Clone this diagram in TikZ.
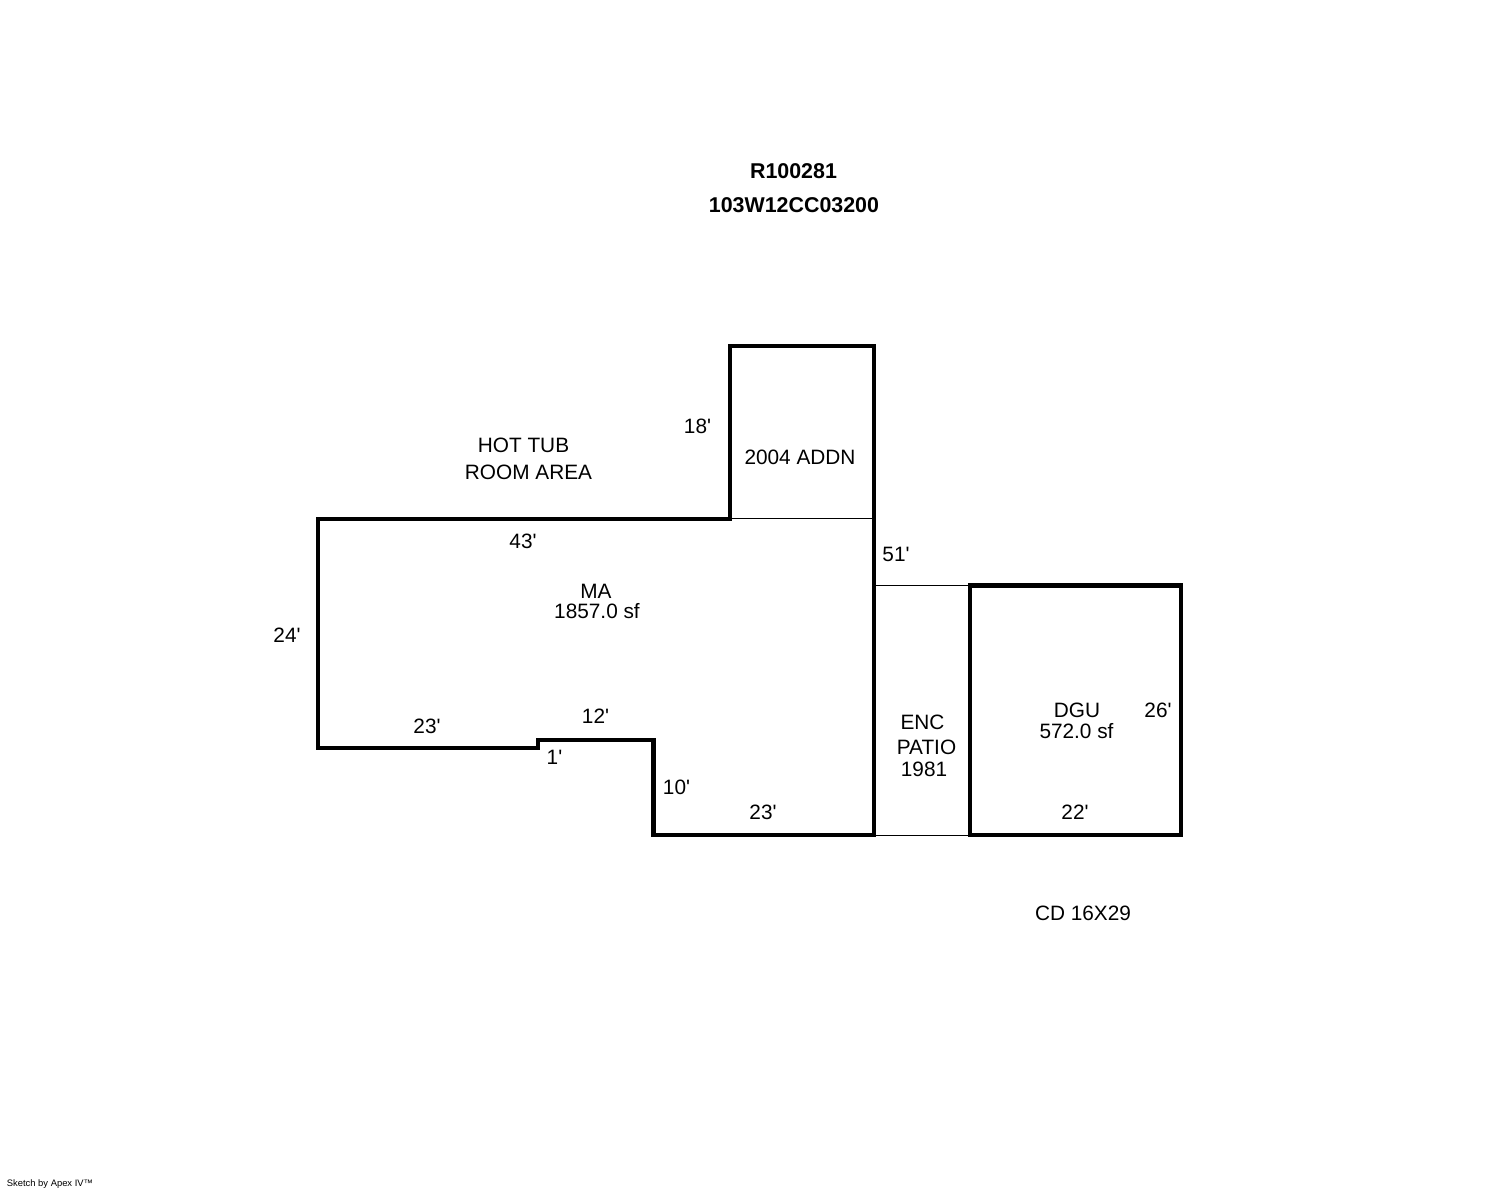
\documentclass[tikz,border=0pt]{standalone}
\usepackage{fontspec}
\setmainfont{Liberation Sans}
\usetikzlibrary{positioning}
\newcommand{\ft}{\textquotesingle}
\tikzset{
  wall/.style={line width=2.1pt, line join=miter},
  thin wall/.style={line width=0.5pt},
  lbl/.style={inner sep=0pt, font=\fontsize{10.4}{12}\selectfont, align=center},
  head/.style={inner sep=0pt, font=\fontsize{10.7}{12}\selectfont\bfseries}
}
\begin{document}
% 1 px = 0.5 pt, y measured downwards from the top
\begin{tikzpicture}[x=0.5pt,y=-0.5pt]
\useasboundingbox (0,0) rectangle (1488,1190);
% Outline corners
\coordinate (ma1) at (318,519);
\coordinate (ma2) at (730,519);
\coordinate (ad1) at (730,346);
\coordinate (ad2) at (874,346);
\coordinate (ma3) at (874,835);
\coordinate (ma4) at (653.5,835);
\coordinate (ma5) at (653.5,740);
\coordinate (ma6) at (538,740);
\coordinate (ma7) at (538,748);
\coordinate (ma8) at (318,748);
\coordinate (pa1) at (874,585.5);
\coordinate (dg1) at (970,585.5);
\coordinate (dg2) at (1181,585.5);
\coordinate (dg3) at (1181,835);
\coordinate (dg4) at (970,835);
% Thin lines
\draw[thin wall] (ma2) ++(0,-0.5) -- (874,518.5);
\draw[thin wall] (pa1) -- (dg1);
\draw[thin wall] (ma3) -- (dg4);
% Main area
\draw[wall] (ma1) -- (ma2) -- (ad1) -- (ad2) -- (ma3) -- (ma4) -- (ma5) -- (ma6) -- (ma7) -- (ma8) -- cycle;
% Garage
\draw[wall] (dg1) -- (dg2) -- (dg3) -- (dg4) -- cycle;
% Titles
\node[head] (title) at (793.5,171) {R100281};
\node[head] (parcel) at (794,205) {103W12CC03200};
% Areas
\node[lbl] (tub1) at (523.5,445) {HOT TUB};
\node[lbl] (tub2) at (528.5,472) {ROOM AREA};
\node[lbl] (addn) at (800,457) {2004 ADDN};
\node[lbl] (ma) at (596,591) {MA};
\node[lbl] (masf) at (597,611) {1857.0 sf};
\node[lbl] (enc) at (922.5,722) {ENC};
\node[lbl] (patio) at (926.5,747) {PATIO};
\node[lbl] (year) at (924,769) {1981};
\node[lbl] (dgu) at (1077,710) {DGU};
\node[lbl] (dgusf) at (1076.5,731) {572.0 sf};
\node[lbl] (cd) at (1083,913) {CD 16X29};
% Dimensions
\node[lbl] (d18) at (697.5,426) {18\ft};
\node[lbl] (d43) at (523,541) {43\ft};
\node[lbl] (d51) at (896,554) {51\ft};
\node[lbl] (d24) at (287,635) {24\ft};
\node[lbl] (d23a) at (427,726) {23\ft};
\node[lbl] (d12) at (595.5,716) {12\ft};
\node[lbl] (d1) at (554.5,757) {1\ft};
\node[lbl] (d10) at (676.5,787) {10\ft};
\node[lbl] (d23b) at (763,812) {23\ft};
\node[lbl] (d26) at (1158,710) {26\ft};
\node[lbl] (d22) at (1075,812) {22\ft};
\node[inner sep=0pt, font=\fontsize{4.7}{6}\selectfont] (apex) at (50,1184) {Sketch by Apex IV™};
\end{tikzpicture}
\end{document}
